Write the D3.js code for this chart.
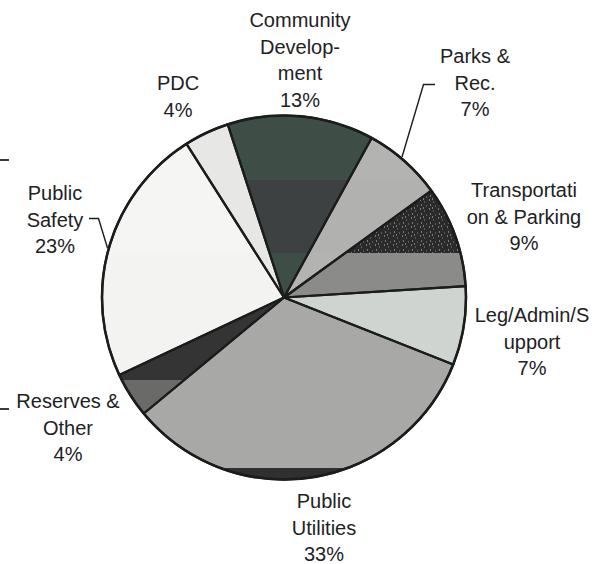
<!DOCTYPE html>
<html>
<head>
<meta charset="utf-8">
<script src="https://cdn.jsdelivr.net/npm/d3@7"></script>
<style>
  html, body { margin: 0; padding: 0; background: #ffffff; }
  svg { display: block; }
  text { font-family: "Liberation Sans", Arial, Helvetica, sans-serif; fill: #1d221f; }
</style>
</head>
<body>
<svg id="chart" width="602" height="564"></svg>
<script>
// Budget shares by department (percent)
const categories = [
  "Community Development", "Parks & Rec.", "Transportation & Parking",
  "Leg/Admin/Support", "Public Utilities", "Reserves & Other",
  "Public Safety", "PDC"
];
const values = [13, 7, 9, 7, 33, 4, 23, 4];
const labelLines = [
  ["Community", "Develop-", "ment"],
  ["Parks &", "Rec."],
  ["Transportati", "on & Parking"],
  ["Leg/Admin/S", "upport"],
  ["Public", "Utilities"],
  ["Reserves &", "Other"],
  ["Public", "Safety"],
  ["PDC"]
];

// ---- layout & styling ----
const W = 602, H = 564;
const cx = 284, cy = 297.5, R = 182;
const startDeg = -18;

// horizontal shading bands of the printed figure (y limits)
const bandEdges = [0, 180, 253, 292, 380, 468, H];
// fill per slice for each band
const bandFills = {
  "Community Development":     ["#3f4d47", "#3d4141", "#3f4d47", "#3f4d47", "#3f4d47", "#3f4d47"],
  "Parks & Rec.":              ["#b3b4b1", "#b1b2af", "#b3b4b1", "#b3b4b1", "#b3b4b1", "#b3b4b1"],
  "Transportation & Parking":  ["url(#stipple)", "url(#stipple)", "#8b8b89", "#8b8b89", "#8b8b89", "#8b8b89"],
  "Leg/Admin/Support":         ["#cfd4d1", "#cfd4d1", "#cfd4d1", "#cfd4d1", "#cfd4d1", "#cfd4d1"],
  "Public Utilities":          ["#a8a8a6", "#a8a8a6", "#a8a8a6", "#a8a8a6", "#a8a8a6", "#303030"],
  "Reserves & Other":          ["#333333", "#333333", "#333333", "#343434", "#6a6a68", "#6a6a68"],
  "Public Safety":             ["#f5f5f3", "#f5f5f3", "#f3f4f2", "#f3f4f2", "#f5f5f3", "#f5f5f3"],
  "PDC":                       ["#e7e8e6", "#e7e8e6", "#e7e8e6", "#e7e8e6", "#e7e8e6", "#e7e8e6"]
};

// label anchor (centre x, first baseline y) per slice
const labelPos = [
  [300, 27], [475, 63], [524, 197], [532, 322],
  [324, 508], [68, 408], [55, 200], [178, 90]
];
const lineGap = 26.5;

// leader lines
const leaders = [
  [[435, 84.5], [423.5, 84.5], [402, 157]],
  [[89, 218.5], [98.5, 218.5], [107.5, 248]]
];

const svg = d3.select("#chart");
const defs = svg.append("defs");

// speckled dark texture
const pat = defs.append("pattern")
  .attr("id", "stipple").attr("patternUnits", "userSpaceOnUse")
  .attr("width", 9).attr("height", 9);
pat.append("rect").attr("width", 9).attr("height", 9).attr("fill", "#2a2a2a");
[[1, 1], [5, 3], [2, 6], [7, 7], [4, 0]].forEach(([x, y], i) => {
  pat.append("rect").attr("x", x).attr("y", y)
    .attr("width", 1).attr("height", 1)
    .attr("fill", i % 2 ? "#8a8a8a" : "#c8c8c8");
});

bandEdges.slice(0, -1).forEach((y0, i) => {
  defs.append("clipPath").attr("id", "band" + i)
    .append("rect").attr("x", 0).attr("y", y0)
    .attr("width", W).attr("height", bandEdges[i + 1] - y0);
});

const data = categories.map((c, i) => ({ category: c, value: values[i], lines: labelLines[i] }));

const pie = d3.pie().sort(null).value(d => d.value)
  .startAngle(startDeg * Math.PI / 180)
  .endAngle(startDeg * Math.PI / 180 + 2 * Math.PI);
const arcs = pie(data);
const arc = d3.arc().innerRadius(0).outerRadius(R);

// slice fills, band by band
bandEdges.slice(0, -1).forEach((y0, i) => {
  svg.append("g")
    .attr("clip-path", `url(#band${i})`)
    .append("g").attr("transform", `translate(${cx},${cy})`)
    .selectAll("path").data(arcs).join("path")
    .attr("d", arc)
    .attr("fill", d => bandFills[d.data.category][i])
    .attr("stroke", "none");
});

// slice outlines
svg.append("g").attr("transform", `translate(${cx},${cy})`)
  .selectAll("path").data(arcs).join("path")
  .attr("d", arc)
  .attr("fill", "none")
  .attr("stroke", "#1b1d1c")
  .attr("stroke-width", 2.2)
  .attr("stroke-linejoin", "round");

svg.append("circle")
  .attr("cx", cx).attr("cy", cy).attr("r", R)
  .attr("fill", "none").attr("stroke", "#1b1d1c").attr("stroke-width", 2.5);

// leader lines
const line = d3.line();
leaders.forEach(pts => {
  svg.append("path").attr("d", line(pts))
    .attr("fill", "none").attr("stroke", "#1b1d1c").attr("stroke-width", 1.4);
});

// labels
const labels = svg.append("g").attr("font-size", 20).attr("text-anchor", "middle");
data.forEach((d, i) => {
  const [x, y] = labelPos[i];
  const t = labels.append("text").attr("x", x).attr("y", y);
  d.lines.concat([d.value + "%"]).forEach((s, k) => {
    t.append("tspan").attr("x", x).attr("y", y + k * lineGap).text(s);
  });
});

// small margin ticks
[[160], [409]].forEach(([y]) => {
  svg.append("rect").attr("x", 0).attr("y", y - 1).attr("width", 9).attr("height", 2)
    .attr("fill", "#3a3a3a");
});
</script>
</body>
</html>
